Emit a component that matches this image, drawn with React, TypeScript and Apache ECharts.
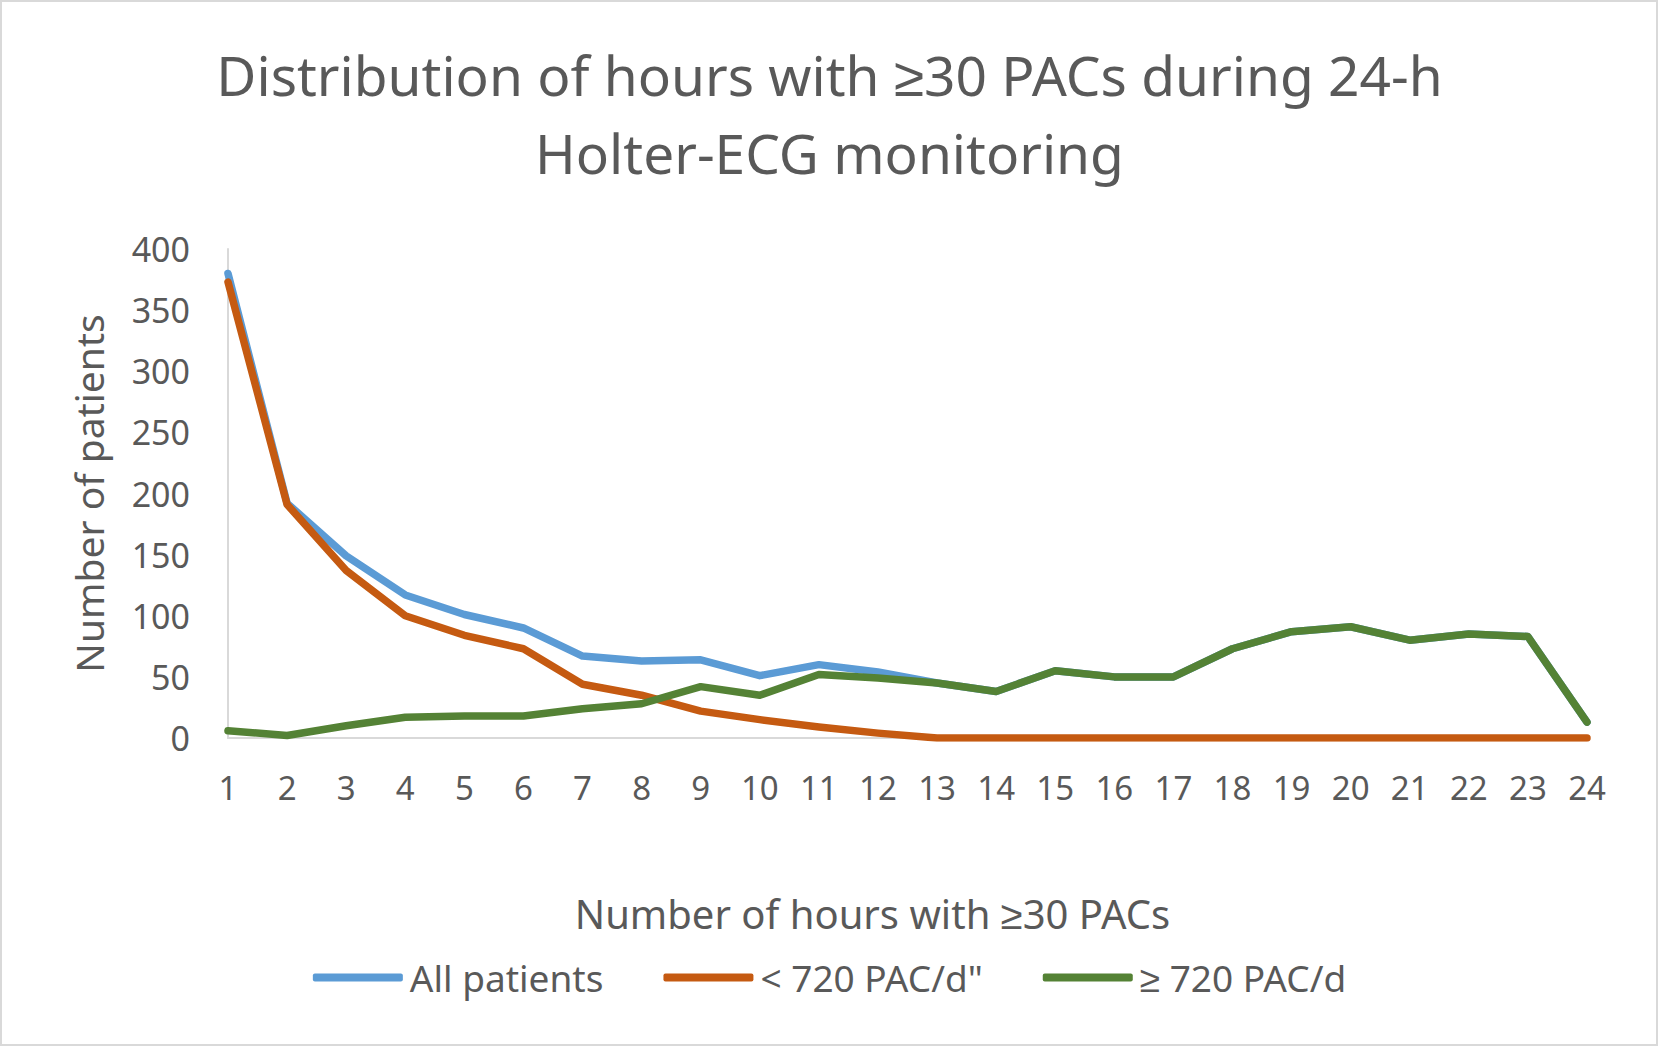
import React, { useEffect, useRef } from "react";
import * as echarts from "echarts";

const hours = ["1","2","3","4","5","6","7","8","9","10","11","12","13","14","15","16","17","18","19","20","21","22","23","24"];
const allPatients = [380, 192, 149, 117, 101, 90, 67, 63, 64, 51, 60, 54, 45, 38, 55, 50, 50, 73, 87, 91, 80, 85, 83, 13];
const below720 = [373, 191, 137, 100, 84, 73, 44, 35, 22, 15, 9, 4, 0, 0, 0, 0, 0, 0, 0, 0, 0, 0, 0, 0];
const above720 = [6, 2, 10, 17, 18, 18, 24, 28, 42, 35, 52, 49, 45, 38, 55, 50, 50, 73, 87, 91, 80, 85, 83, 13];
const seriesNames = ["All patients", "< 720 PAC/d\"", "≥ 720 PAC/d"];
const colors = ["#5B9BD5", "#C55A11", "#548235"];

export default function App() {
  const ref = useRef<HTMLDivElement>(null);
  useEffect(() => {
    if (!ref.current) return;
    const chart = echarts.init(ref.current, undefined, { renderer: "svg" });
    const font = "'Noto Sans', sans-serif";
    const txt = "#595959";
    const datasets = [allPatients, below720, above720];
    chart.setOption({
      animation: false,
      backgroundColor: "#ffffff",
      textStyle: { fontFamily: font },
      title: {
        text: "Distribution of hours with ≥30 PACs during 24-h\nHolter-ECG monitoring",
        left: "center",
        top: 30,
        textStyle: { fontFamily: font, fontSize: 55, lineHeight: 78, color: txt, fontWeight: "normal" },
      },
      graphic: [
        {
          type: "rect",
          shape: { x: 1, y: 1, width: 1656, height: 1044 },
          style: { fill: "none", stroke: "#D9D9D9", lineWidth: 2 },
          silent: true,
        },
      ],
      legend: {
        data: seriesNames,
        left: "center",
        top: 954,
        icon: "roundRect",
        itemWidth: 90,
        itemHeight: 8,
        itemGap: 60,
        textStyle: { fontFamily: font, fontSize: 37, color: txt, padding: [0, 0, 0, 2] },
      },
      grid: { left: 228, right: 72, top: 249, bottom: 309 },
      xAxis: {
        type: "category",
        data: hours,
        boundaryGap: false,
        name: "Number of hours with ≥30 PACs",
        nameLocation: "middle",
        nameGap: 155,
        nameTextStyle: { fontFamily: font, fontSize: 40, color: txt, padding: [0, 70, 0, 0] },
        axisLine: { show: true, lineStyle: { color: "#D9D9D9", width: 2 } },
        axisTick: { show: false },
        axisLabel: { interval: 0, fontFamily: font, fontSize: 33, color: txt, margin: 33 },
        splitLine: { show: false },
      },
      yAxis: {
        type: "value",
        min: 0,
        max: 400,
        interval: 50,
        name: "Number of patients",
        nameLocation: "middle",
        nameGap: 120,
        nameTextStyle: { fontFamily: font, fontSize: 39, color: txt },
        axisLine: { show: true, lineStyle: { color: "#D9D9D9", width: 2 } },
        axisTick: { show: false },
        axisLabel: { fontFamily: font, fontSize: 34, color: txt, margin: 38 },
        splitLine: { show: false },
      },
      series: seriesNames.map((name, i) => ({
        name,
        type: "line",
        data: datasets[i],
        showSymbol: false,
        symbol: "none",
        smooth: false,
        color: colors[i],
        itemStyle: { color: colors[i] },
        lineStyle: { color: colors[i], width: 7.5, cap: "round", join: "round" },
        z: 2 + i,
      })),
    });
    return () => chart.dispose();
  }, []);
  return (
    <div
      ref={ref}
      style={{ position: "fixed", left: 0, top: 0, width: 1659, height: 1047 }}
    />
  );
}
